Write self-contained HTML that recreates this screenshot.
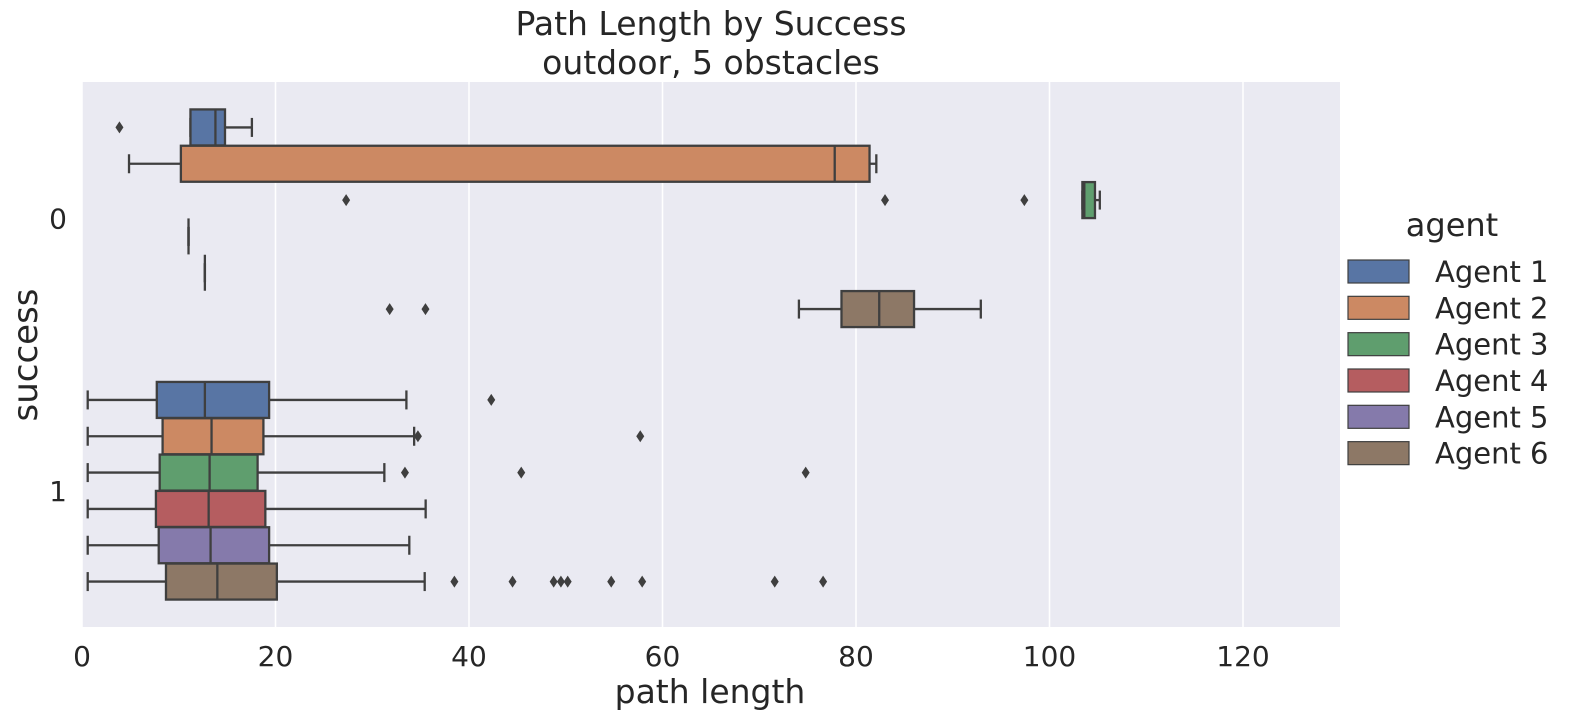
<!DOCTYPE html>
<html><head><meta charset="utf-8"><style>
body{margin:0;background:#fff;}
svg text{font-family:"DejaVu Sans","Liberation Sans",sans-serif;fill:#262626;}
</style></head><body>
<svg id="chart" width="1580" height="720" xmlns="http://www.w3.org/2000/svg">
<rect x="82" y="82" width="1258" height="545" fill="#eaeaf2"/>
<g id="grid"></g>
<g id="boxes"></g>
<g id="axes"></g>
<text x="711" y="35" font-size="33" text-anchor="middle">Path Length by Success</text>
<text x="711" y="74" font-size="33" text-anchor="middle">outdoor, 5 obstacles</text>
<text x="710" y="703" font-size="33" text-anchor="middle">path length</text>
<text x="37" y="355" font-size="34" text-anchor="middle" transform="rotate(-90 37 355)">success</text>
<g id="legend"></g>
</svg>
<script>
const categories = ["0","1"];
const agents = ["Agent 1","Agent 2","Agent 3","Agent 4","Agent 5","Agent 6"];
const colors = ["#5875a4","#cc8963","#5f9e6e","#b55d60","#857aab","#8d7866"];
const xTicks = [0,20,40,60,80,100,120];
// [low whisker, q1, median, q3, high whisker] per agent, success=0
const stats0 = [[11.21,11.21,13.79,14.78,17.56],[4.86,10.22,77.8,81.4,82.1],[103.4,103.4,103.6,104.7,105.2],[11.01,11.01,11.01,11.01,11.01],[12.7,12.7,12.7,12.7,12.7],[74.1,78.5,82.4,86.0,92.9]];
const fliers0 = [[3.87],[],[27.3,83.0,97.4],[],[],[31.8,35.5]];
// success=1
const stats1 = [[0.59,7.73,12.7,19.34,33.53],[0.59,8.33,13.39,18.75,34.33],[0.59,8.03,13.19,18.15,31.25],[0.59,7.64,13.09,18.95,35.52],[0.59,7.93,13.29,19.34,33.83],[0.59,8.68,13.99,20.14,35.42]];
const fliers1 = [[42.3],[34.72,57.7],[33.38,45.4,74.8],[],[],[38.49,44.5,48.75,49.5,50.2,54.7,57.9,71.6,76.6]];

const NS="http://www.w3.org/2000/svg";
const x = v => 82 + v*(1243-82)/120;
const catY = i => 82 + 272.5*i + 136.25;
const hueY = (c,h) => catY(c) + (h-2.5)*36.33;
function mk(tag, attrs, parent){const e=document.createElementNS(NS,tag);for(const k in attrs)e.setAttribute(k,attrs[k]);parent.appendChild(e);return e;}
const grid=document.getElementById('grid'), boxes=document.getElementById('boxes'), axes=document.getElementById('axes'), legend=document.getElementById('legend');
xTicks.forEach(t=>{
  const l=mk('line',{x1:x(t),x2:x(t),y1:82,y2:627,stroke:'#fff','stroke-width':1.5},grid);
  
  
  const tx=mk('text',{x:x(t),y:666,'font-size':28,'text-anchor':'middle'},axes);
  tx.textContent=t;
  
  
});
categories.forEach((c,i)=>{
  const tx=mk('text',{x:67,y:catY(i)+10,'font-size':28,'text-anchor':'end'},axes);
  tx.textContent=c;
  
  
});
const ec='#3f3f3f';
[[stats0,fliers0],[stats1,fliers1]].forEach(([st,fl],c)=>{
  st.forEach((s,h)=>{
    const cy=hueY(c,h), hw=18, cap=9.5;
    const g=mk('g',{},boxes);
    
    
    const st2={stroke:ec,'stroke-width':2.3};
    mk('line',Object.assign({x1:x(s[0]),x2:x(s[1]),y1:cy,y2:cy},st2),g);
    mk('line',Object.assign({x1:x(s[3]),x2:x(s[4]),y1:cy,y2:cy},st2),g);
    mk('line',Object.assign({x1:x(s[0]),x2:x(s[0]),y1:cy-cap,y2:cy+cap},st2),g);
    mk('line',Object.assign({x1:x(s[4]),x2:x(s[4]),y1:cy-cap,y2:cy+cap},st2),g);
    mk('rect',Object.assign({x:x(s[1]),y:cy-hw,width:Math.max(0,x(s[3])-x(s[1])),height:hw*2,fill:colors[h]},st2),g);
    mk('line',Object.assign({x1:x(s[2]),x2:x(s[2]),y1:cy-hw,y2:cy+hw},st2),g);
    fl[h].forEach(v=>{
      const p=mk('path',{d:`M${x(v)} ${cy-6}L${x(v)+4} ${cy}L${x(v)} ${cy+6}L${x(v)-4} ${cy}Z`,fill:ec},boxes);
      
      
    });
  });
});
const lt=mk('text',{x:1452,y:236,'font-size':32,'text-anchor':'middle'},legend);
lt.textContent='agent';


agents.forEach((a,i)=>{
  const y=260+i*36.33;
  const g=mk('g',{},legend);
  
  
  mk('rect',{x:1348,y:y,width:61,height:23,fill:colors[i],stroke:ec,'stroke-width':1.2},g);
  const t=mk('text',{x:1435,y:y+22,'font-size':29},g);
  t.textContent=a;
});
</script>
</body></html>
